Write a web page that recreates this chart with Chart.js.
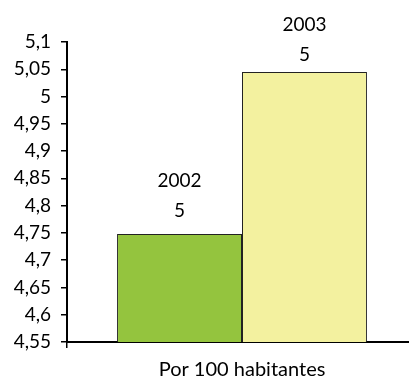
<!DOCTYPE html>
<html><head><meta charset="utf-8">
<script src="https://cdn.jsdelivr.net/npm/chart.js@4"></script>
<style>html,body{margin:0;padding:0;background:#fff;overflow:hidden}#o{width:409px;height:382px;overflow:hidden}#w{width:418px;height:382px}</style>
</head><body><div id="o"><div id="w"><canvas id="c"></canvas></div></div>
<script>
const categories = ['Por 100 habitantes'];
const seriesNames = ['2002', '2003'];
const seriesValues = [4.748, 5.045];
const seriesColors = ['#94C43E', '#F3F19F'];
const yTicks = [4.55, 4.6, 4.65, 4.7, 4.75, 4.8, 4.85, 4.9, 4.95, 5, 5.05, 5.1];

const FONT = 'Lato, "Open Sans", sans-serif';

const labelPlugin = {
  id: 'barLabels',
  afterDatasetsDraw(chart) {
    const ctx = chart.ctx;
    ctx.save();
    ctx.fillStyle = '#000';
    ctx.font = '19px ' + FONT;
    ctx.textAlign = 'center';
    ctx.textBaseline = 'alphabetic';
    chart.data.datasets.forEach((ds, i) => {
      const el = chart.getDatasetMeta(i).data[0];
      let base = el.y - 17;
      if (base - 30 - 14 < 17) base = 17 + 14 + 30;
      ctx.fillText(String(Math.round(ds.data[0])), el.x, base);
      ctx.fillText(ds.label, el.x, base - 30);
    });
    ctx.restore();
  }
};

new Chart(document.getElementById('c'), {
  type: 'bar',
  data: {
    labels: categories,
    datasets: seriesNames.map((n, i) => ({
      label: n,
      data: [seriesValues[i]],
      backgroundColor: seriesColors[i],
      borderColor: '#222',
      borderWidth: 1,
      categoryPercentage: 0.714,
      barPercentage: 1
    }))
  },
  options: {
    responsive: true,
    maintainAspectRatio: false,
    animation: false,
    layout: { padding: { top: 42, right: 1, left: 0, bottom: 0 } },
    plugins: { legend: { display: false }, tooltip: { enabled: false } },
    scales: {
      x: {
        grid: { display: true, drawOnChartArea: false, drawTicks: true, tickLength: 6, color: '#000', lineWidth: 1.5, offset: true },
        border: { display: true, color: '#000', width: 2 },
        ticks: { color: '#000', font: { family: FONT, size: 20 }, padding: 10 },
        afterFit(s) { s.height = 40; }
      },
      y: {
        min: 4.55, max: 5.1,
        afterBuildTicks(s) { s.ticks = yTicks.map(v => ({ value: v })); },
        grid: { display: true, drawOnChartArea: false, drawTicks: true, tickLength: 6, color: '#000', lineWidth: 1.5 },
        border: { display: true, color: '#000', width: 2 },
        ticks: {
          color: '#000', font: { family: FONT, size: 19 }, padding: 10,
          callback: v => String(Math.round(v * 100) / 100).replace('.', ',')
        },
        afterFit(s) { s.width = 67; }
      }
    }
  },
  plugins: [labelPlugin]
});
</script></body></html>
